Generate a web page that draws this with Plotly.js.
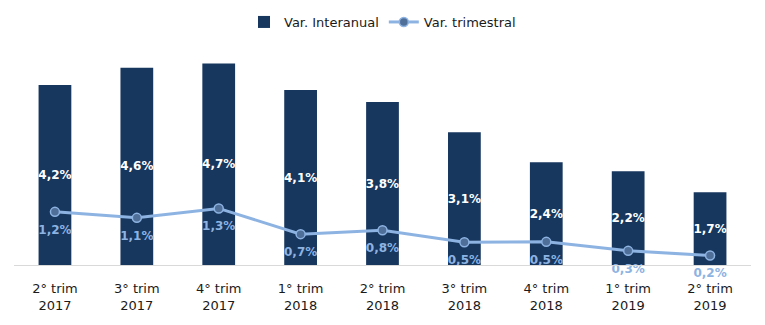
<!DOCTYPE html>
<html>
<head>
<meta charset="utf-8">
<script src="https://cdn.plot.ly/plotly-3.0.1.min.js"></script>
<style>html,body{margin:0;padding:0;background:#fff;}#chart{width:765px;height:325px;}</style>
</head>
<body>
<div id="chart"></div>
<script>
const categories = ["2° trim<br>2017","3° trim<br>2017","4° trim<br>2017","1° trim<br>2018","2° trim<br>2018","3° trim<br>2018","4° trim<br>2018","1° trim<br>2019","2° trim<br>2019"];
const interanual = [4.2, 4.6, 4.7, 4.08, 3.8, 3.1, 2.4, 2.19, 1.7];
const interanualLabels = ["4,2%","4,6%","4,7%","4,1%","3,8%","3,1%","2,4%","2,2%","1,7%"];
const trimestral = [1.24, 1.1, 1.32, 0.72, 0.81, 0.53, 0.54, 0.33, 0.22];
const trimestralLabels = ["1,2%","1,1%","1,3%","0,7%","0,8%","0,5%","0,5%","0,3%","0,2%"];

const font = "DejaVu Sans, Verdana, sans-serif";
const data = [
  {
    type: "bar", name: "Var. Interanual", x: categories, y: interanual,
    text: interanualLabels, texttemplate: "%{text}", textposition: "inside",
    insidetextanchor: "middle", textangle: 0, constraintext: "none",
    textfont: {color: "#ffffff", size: 12, family: font, weight: "bold"},
    marker: {color: "#17375e"}, width: 0.4, hoverinfo: "skip"
  },
  {
    type: "scatter", mode: "lines+markers", name: "Var. trimestral",
    x: categories, y: trimestral,
    line: {color: "#8db3e2", width: 3},
    marker: {color: "#4f6f99", size: 9, line: {color: "#8db3e2", width: 1.5}},
    cliponaxis: false, hoverinfo: "skip"
  },
  {
    type: "scatter", mode: "markers+text", showlegend: false,
    x: categories, y: trimestral, text: trimestralLabels, textposition: "bottom center",
    textfont: {color: "#8db3e2", size: 12, family: font, weight: "bold"},
    marker: {size: 19, opacity: 0},
    cliponaxis: false, hoverinfo: "skip"
  }
];
const layout = {
  width: 765, height: 325,
  margin: {l: 14, r: 14, t: 50, b: 60, autoexpand: false},
  paper_bgcolor: "#ffffff", plot_bgcolor: "#ffffff",
  font: {family: font, size: 13, color: "#1a1a1a"},
  showlegend: true,
  legend: {orientation: "h", x: 0.5, xanchor: "center", y: 1.2, yanchor: "top",
           font: {size: 13, family: font, color: "#1a1a1a"}, traceorder: "normal"},
  xaxis: {type: "category", range: [-0.5, 8.5], showline: true, linecolor: "#d9d9d9", linewidth: 1,
          ticks: "", showgrid: false, ticklabelstandoff: 11,
          tickfont: {size: 13, family: font, color: "#1a1a1a"}, fixedrange: true},
  yaxis: {range: [0, 5.016], visible: false, showgrid: false, zeroline: false, fixedrange: true}
};
Plotly.newPlot("chart", data, layout, {displayModeBar: false, staticPlot: true});
</script>
</body>
</html>
